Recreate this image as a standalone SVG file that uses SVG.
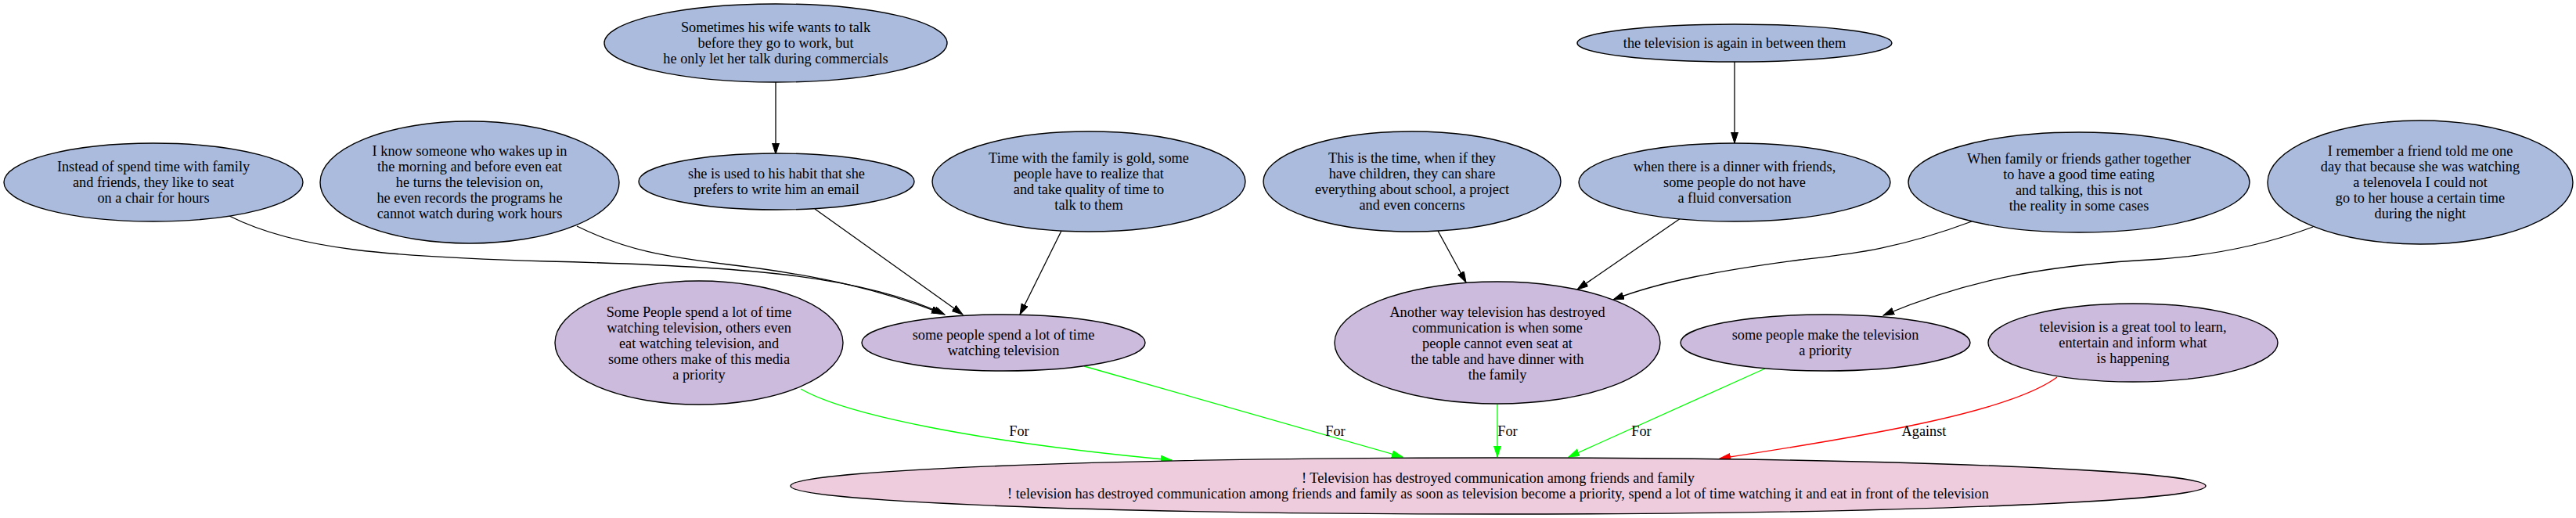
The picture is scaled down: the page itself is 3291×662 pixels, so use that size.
<svg xmlns="http://www.w3.org/2000/svg" width="3291" height="662" viewBox="0 0 3291 662">
<defs>
<style>
.n ellipse{stroke:#000;stroke-width:1.4}
.b ellipse{fill:#aabbdd}
.p ellipse{fill:#ccbbdd}
.r ellipse{fill:#eeccdd}
text{font-family:"Liberation Serif","Times New Roman",serif;font-size:18.3px;fill:#000;text-anchor:middle}
.e path{fill:none;stroke-width:1.3}
.k{stroke:#000}
.g{stroke:#00ff00}
.rd{stroke:#ff0000}
</style>
<marker id="ak" markerUnits="userSpaceOnUse" markerWidth="15" markerHeight="10" refX="14" refY="4.5" orient="auto"><path d="M0,0 L14,4.5 L0,9 z" fill="#000" stroke="#000" stroke-width="1"/></marker>
<marker id="ag" markerUnits="userSpaceOnUse" markerWidth="15" markerHeight="10" refX="14" refY="4.5" orient="auto"><path d="M0,0 L14,4.5 L0,9 z" fill="#00ff00" stroke="#00ff00" stroke-width="1"/></marker>
<marker id="ar" markerUnits="userSpaceOnUse" markerWidth="15" markerHeight="10" refX="14" refY="4.5" orient="auto"><path d="M0,0 L14,4.5 L0,9 z" fill="#ff0000" stroke="#ff0000" stroke-width="1"/></marker>
</defs>
<rect width="3291" height="662" fill="#fff"/>
<g id="edges" class="e">
<path class="k" d="M293,276 C380,320 500,328 700,334 C950,340 1100,352 1207,402" marker-end="url(#ak)"/>
<path class="k" d="M737,289 C800,320 850,328 930,338 C1050,352 1130,372 1204,401" marker-end="url(#ak)"/>
<path class="k" d="M1041,267 L1230,402" marker-end="url(#ak)"/>
<path class="k" d="M1356,295 L1303,402" marker-end="url(#ak)"/>
<path class="k" d="M991,105 L991,197" marker-end="url(#ak)"/>
<path class="k" d="M2216,79 L2216,183" marker-end="url(#ak)"/>
<path class="k" d="M1837,295 L1873,361" marker-end="url(#ak)"/>
<path class="k" d="M2147,279 L2015,370" marker-end="url(#ak)"/>
<path class="k" d="M2519,283 C2420,320 2360,325 2300,332 C2200,345 2120,360 2061,383" marker-end="url(#ak)"/>
<path class="k" d="M2955,290 C2880,318 2800,330 2729,333 C2620,340 2520,355 2406,403" marker-end="url(#ak)"/>
<path class="g" d="M1023,497 C1080,530 1250,565 1497,588" marker-end="url(#ag)"/>
<path class="g" d="M1385,468 L1792,584" marker-end="url(#ag)"/>
<path class="g" d="M1913,517 L1913,584" marker-end="url(#ag)"/>
<path class="g" d="M2255,471 L2004,584" marker-end="url(#ag)"/>
<path class="rd" d="M2628,482 C2570,525 2400,555 2197,586" marker-end="url(#ar)"/>
<text x="1302" y="557">For</text>
<text x="1706" y="557">For</text>
<text x="1926" y="557">For</text>
<text x="2097" y="557">For</text>
<text x="2458" y="557">Against</text>
</g>
<g id="nA" class="n b"><ellipse cx="196" cy="233" rx="191" ry="50"/>
<text x="196" y="219">Instead of spend time with family</text><text x="196" y="239">and friends, they like to seat</text><text x="196" y="259">on a chair for hours</text></g>
<g id="nB" class="n b"><ellipse cx="600" cy="233" rx="191" ry="78"/>
<text x="600" y="199">I know someone who wakes up in</text><text x="600" y="219">the morning and before even eat</text><text x="600" y="239">he turns the television on,</text><text x="600" y="259">he even records the programs he</text><text x="600" y="279">cannot watch during work hours</text></g>
<g id="nC" class="n b"><ellipse cx="991" cy="55" rx="219" ry="50"/>
<text x="991" y="41">Sometimes his wife wants to talk</text><text x="991" y="61">before they go to work, but</text><text x="991" y="81">he only let her talk during commercials</text></g>
<g id="nD" class="n b"><ellipse cx="992" cy="232" rx="176" ry="36"/>
<text x="992" y="228">she is used to his habit that she</text><text x="992" y="248">prefers to write him an email</text></g>
<g id="nE" class="n b"><ellipse cx="1391" cy="232" rx="200" ry="64"/>
<text x="1391" y="208">Time with the family is gold, some</text><text x="1391" y="228">people have to realize that</text><text x="1391" y="248">and take quality of time to</text><text x="1391" y="268">talk to them</text></g>
<g id="nF" class="n b"><ellipse cx="1804" cy="232" rx="190" ry="64"/>
<text x="1804" y="208">This is the time, when if they</text><text x="1804" y="228">have children, they can share</text><text x="1804" y="248">everything about school, a project</text><text x="1804" y="268">and even concerns</text></g>
<g id="nG" class="n b"><ellipse cx="2216" cy="55" rx="201" ry="24"/>
<text x="2216" y="61">the television is again in between them</text></g>
<g id="nH" class="n b"><ellipse cx="2216" cy="233" rx="199" ry="50"/>
<text x="2216" y="219">when there is a dinner with friends,</text><text x="2216" y="239">some people do not have</text><text x="2216" y="259">a fluid conversation</text></g>
<g id="nI" class="n b"><ellipse cx="2656" cy="233" rx="218" ry="64"/>
<text x="2656" y="209">When family or friends gather together</text><text x="2656" y="229">to have a good time eating</text><text x="2656" y="249">and talking, this is not</text><text x="2656" y="269">the reality in some cases</text></g>
<g id="nJ" class="n b"><ellipse cx="3092" cy="233" rx="195" ry="79"/>
<text x="3092" y="199">I remember a friend told me one</text><text x="3092" y="219">day that because she was watching</text><text x="3092" y="239">a telenovela I could not</text><text x="3092" y="259">go to her house a certain time</text><text x="3092" y="279">during the night</text></g>
<g id="nM" class="n p"><ellipse cx="893" cy="438" rx="184" ry="79"/>
<text x="893" y="405">Some People spend a lot of time</text><text x="893" y="425">watching television, others even</text><text x="893" y="445">eat watching television, and</text><text x="893" y="465">some others make of this media</text><text x="893" y="485">a priority</text></g>
<g id="nN" class="n p"><ellipse cx="1282" cy="438" rx="181" ry="36"/>
<text x="1282" y="434">some people spend a lot of time</text><text x="1282" y="454">watching television</text></g>
<g id="nO" class="n p"><ellipse cx="1913" cy="438" rx="208" ry="78"/>
<text x="1913" y="405">Another way television has destroyed</text><text x="1913" y="425">communication is when some</text><text x="1913" y="445">people cannot even seat at</text><text x="1913" y="465">the table and have dinner with</text><text x="1913" y="485">the family</text></g>
<g id="nK" class="n p"><ellipse cx="2332" cy="438" rx="185" ry="36"/>
<text x="2332" y="434">some people make the television</text><text x="2332" y="454">a priority</text></g>
<g id="nL" class="n p"><ellipse cx="2725" cy="438" rx="185" ry="50"/>
<text x="2725" y="424">television is a great tool to learn,</text><text x="2725" y="444">entertain and inform what</text><text x="2725" y="464">is happening</text></g>
<g id="nR" class="n r"><ellipse cx="1914" cy="621" rx="904" ry="36"/>
<text x="1914" y="617">! Television has destroyed communication among friends and family</text><text x="1914" y="637">! television has destroyed communication among friends and family as soon as television become a priority, spend a lot of time watching it and eat in front of the television</text></g>
</svg>
